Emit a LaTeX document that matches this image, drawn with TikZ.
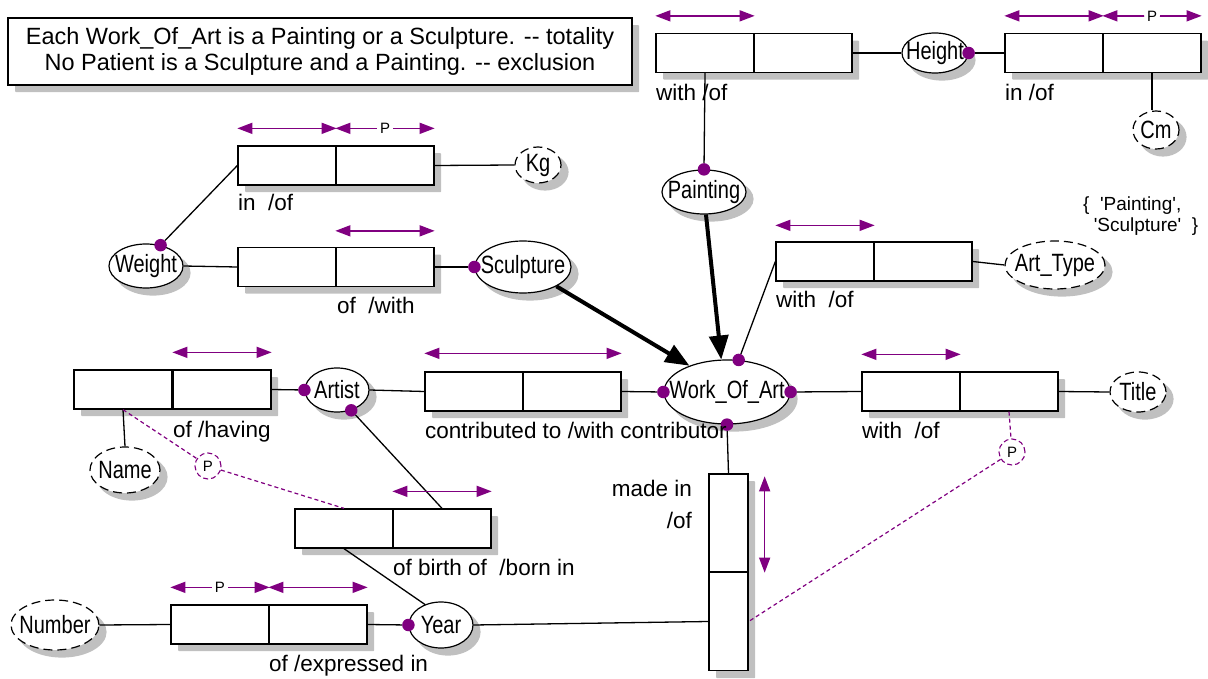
\documentclass[tikz,border=0pt]{standalone}
\usepackage{fontspec}
\setmainfont{Liberation Sans}
\newfontfamily\entfam[FakeStretch=0.8]{Liberation Sans}
\usetikzlibrary{shapes.geometric,arrows.meta,calc}
\pgfdeclarelayer{background}
\pgfsetlayers{background,main}
\definecolor{purp}{RGB}{128,0,128}
\definecolor{shadowgray}{RGB}{192,192,192}
\newcommand{\labfont}{\fontsize{22.5}{26}\selectfont}
\newcommand{\entfont}{\entfam\fontsize{25}{27}\selectfont}
\newcommand{\q}{\textquotesingle}
\tikzset{
  cell/.style={draw, fill=white, line width=1.3pt, minimum width=98pt, minimum height=39pt, inner sep=0pt},
  vcell/.style={cell, minimum width=39pt, minimum height=98pt},
  entity/.style={ellipse, draw, fill=white, line width=1.2pt, inner sep=0pt, font=\entfont},
  valent/.style={entity, dash pattern=on 9pt off 5pt},
  dot/.style={circle, fill=purp, inner sep=0pt, minimum size=12.5pt},
  lab/.style={anchor=base west, font=\labfont, inner sep=0pt},
  rng/.style={purp, line width=1.5pt, {Triangle[length=15pt,width=11pt]}-{Triangle[length=15pt,width=11pt]}},
  conn/.style={line width=1.3pt},
  dconn/.style={purp, line width=1.2pt, dash pattern=on 4pt off 3pt},
  pcirc/.style={circle, draw=purp, line width=1.1pt, dash pattern=on 5pt off 3pt, fill=white, minimum size=26pt, inner sep=0pt, font=\fontsize{15}{16}\selectfont},
  subtype/.style={line width=4pt, -{Triangle[length=24pt,width=19pt]}},
  pmark/.style={circle, fill=white, inner sep=0.5pt, font=\fontsize{15}{16}\selectfont, text=black},
  shadowfill/.style={fill=shadowgray, draw=none},
  shadownode/.style={rectangle, fill=shadowgray, draw=none, rounded corners=0.8pt, inner sep=0pt, anchor=north west}
}
\newcommand{\et}[1]{\makebox[0pt]{#1}}
\newcommand{\eshadow}[1]{\fill[shadowfill] let \p1=(#1.east), \p2=(#1.north), \p3=(#1.center) in ([xshift=7pt,yshift=-7pt]#1.center) ellipse [x radius={\x1-\x3}, y radius={\y2-\y3}];}
\begin{document}
\begin{tikzpicture}[x=1pt,y=-1pt]
\useasboundingbox (0,0) rectangle (1208,679);

% note box
\node[draw, fill=white, line width=1.3pt, minimum width=624pt, minimum height=67pt, align=center, font=\fontsize{23.5}{26}\selectfont, inner sep=0pt] (note) at (320,51.5)
  {Each Work\_Of\_Art is a Painting or a Sculpture. -{}- totality\\No Patient is a Sculpture and a Painting. -{}- exclusion};

% enumeration text
\node[anchor=north west, align=left, inner sep=0pt, font=\fontsize{19}{21}\selectfont] (enum) at (1083,197)
  {\{~~\q Painting\q,\\ ~~\q Sculpture\q~~\}};

% ---- boxes ----
\node[cell] (hw1a) at (705,53) {};
\node[cell] (hw1b) at (803,53) {};
\node[cell] (hi2a) at (1054,53) {};
\node[cell] (hi2b) at (1152,53) {};
\node[cell] (wka) at (287,165.5) {};
\node[cell] (wkb) at (385,165.5) {};
\node[cell] (wwa) at (287,267) {};
\node[cell] (wwb) at (385,267) {};
\node[cell] (ata) at (825,261.5) {};
\node[cell] (atb) at (923,261.5) {};
\node[cell] (tia) at (911,391.5) {};
\node[cell] (tib) at (1009,391.5) {};
\node[cell] (cta) at (474,391.5) {};
\node[cell] (ctb) at (572,391.5) {};
\node[cell] (nma) at (123,389.5) {};
\node[cell] (nmb) at (222,389.5) {};
\node[cell] (bba) at (344,528.5) {};
\node[cell] (bbb) at (442,528.5) {};
\node[cell] (exa) at (220,624.5) {};
\node[cell] (exb) at (318,624.5) {};
\node[vcell] (mia) at (728.5,523) {};
\node[vcell] (mib) at (728.5,621.5) {};

% ---- entities ----
\node[entity, minimum width=66pt, minimum height=40pt] (height) at (935,53) {\et{Height}};
\node[valent, minimum width=46pt, minimum height=38pt] (cm) at (1156,130) {\et{Cm}};
\node[entity, minimum width=84pt, minimum height=44pt] (painting) at (704,192) {\et{Painting}};
\node[valent, minimum width=46pt, minimum height=36pt] (kg) at (538,165) {\et{Kg}};
\node[entity, minimum width=74pt, minimum height=44pt] (weight) at (146,266) {\et{Weight}};
\node[entity, minimum width=96pt, minimum height=52pt] (sculpture) at (523,267) {\et{Sculpture}};
\node[valent, minimum width=100pt, minimum height=48pt] (arttype) at (1055,265) {\et{Art\_Type}};
\node[entity, minimum width=126pt, minimum height=64pt] (woa) at (727,392) {\et{Work\_Of\_Art}};
\node[valent, minimum width=56pt, minimum height=40pt] (title) at (1138,392) {\et{Title}};
\node[entity, minimum width=64pt, minimum height=44pt] (artist) at (337,390) {\et{Artist}};
\node[valent, minimum width=70pt, minimum height=46pt] (name) at (125,470) {\et{Name}};
\node[entity, minimum width=64pt, minimum height=46pt] (year) at (441,625) {\et{Year}};
\node[valent, minimum width=88pt, minimum height=50pt] (number) at (55,625) {\et{Number}};

% ---- shadows (background layer) ----
\begin{pgfonlayer}{background}
\node[shadownode, minimum width=624pt, minimum height=67pt] (snote) at (15,25) {};
\node[shadownode, minimum width=196pt, minimum height=39pt] (shw) at (663,40.5) {};
\node[shadownode, minimum width=196pt, minimum height=39pt] (shi) at (1012,40.5) {};
\node[shadownode, minimum width=196pt, minimum height=39pt] (swk) at (245,153) {};
\node[shadownode, minimum width=196pt, minimum height=39pt] (sww) at (245,254.5) {};
\node[shadownode, minimum width=196pt, minimum height=39pt] (sat) at (783,249) {};
\node[shadownode, minimum width=196pt, minimum height=39pt] (sti) at (869,379) {};
\node[shadownode, minimum width=196pt, minimum height=39pt] (sct) at (432,379) {};
\node[shadownode, minimum width=197pt, minimum height=39pt] (snm) at (81,377) {};
\node[shadownode, minimum width=196pt, minimum height=39pt] (sbb) at (302,516) {};
\node[shadownode, minimum width=196pt, minimum height=39pt] (sex) at (178,612) {};
\node[shadownode, minimum width=39pt, minimum height=197pt] (smi) at (716,481) {};
\eshadow{height}
\eshadow{cm}
\eshadow{painting}
\eshadow{kg}
\eshadow{weight}
\eshadow{sculpture}
\eshadow{arttype}
\eshadow{woa}
\eshadow{title}
\eshadow{artist}
\eshadow{name}
\eshadow{year}
\eshadow{number}
\end{pgfonlayer}

% ---- P circles ----
\node[pcirc] (p1) at (208,466) {P};
\node[pcirc] (p2) at (1012,452) {P};

% ---- role dots ----
\node[dot] (dheight) at (height.east) {};
\node[dot] (dpaint) at (painting.north) {};
\node[dot] (dweight) at (weight.55) {};
\node[dot] (dsculp) at (sculpture.west) {};
\node[dot] (dwtop) at (woa.70) {};
\node[dot] (dwleft) at (woa.west) {};
\node[dot] (dwright) at (woa.east) {};
\node[dot] (dwbot) at (woa.south) {};
\node[dot] (dartl) at (artist.west) {};
\node[dot] (dartb) at (artist.-55) {};
\node[dot] (dyear) at (year.west) {};

% ---- connectors ----
\draw[conn] (hw1b.east) -- (height.west);
\draw[conn] (dheight) -- (hi2a.west);
\draw[conn] (hi2b.south) -- (hi2b.south |- cm.north);
\draw[conn] (hw1a.south) -- (dpaint);
\draw[conn] (wkb.east) -- (kg.west);
\draw[conn] (dweight) -- (wka.west);
\draw[conn] (weight.east) -- (wwa.west);
\draw[conn] (wwb.east) -- (dsculp);
\draw[conn] (dwtop) -- (ata.west);
\draw[conn] (atb.east) -- (arttype.west);
\draw[conn] (dwright) -- (tia.west);
\draw[conn] (tib.east) -- (title.west);
\draw[conn] (artist.east) -- (cta.west);
\draw[conn] (ctb.east) -- (dwleft);
\draw[conn] (nmb.east) -- (dartl);
\draw[conn] (nma.south) -- (name.north);
\draw[conn] (dartb) -- (bbb.north);
\draw[conn] (bba.south) -- (year.128);
\draw[conn] (number.east) -- (exa.west);
\draw[conn] (exb.east) -- (dyear);
\draw[conn] (year.east) -- (mib.west);
\draw[conn] (dwbot) -- (mia.north);

\draw[subtype] (painting.-85) -- (woa.100);
\draw[subtype] (sculpture.-30) -- (woa.145);

\draw[dconn] (nma.south) -- (p1);
\draw[dconn] (p1) -- (bba.north);
\draw[dconn] (tib.south) -- (p2);
\draw[dconn] (p2) -- (mib.east);

% ---- uniqueness arrows ----
\draw[rng] ([yshift=17pt]hw1a.north west) -- ([yshift=17pt]hw1a.north east);
\draw[rng] ([yshift=17pt]hi2a.north west) -- ([yshift=17pt]hi2a.north east);
\draw[rng] ([yshift=17pt]hi2b.north west) -- node[pmark] {P} ([yshift=17pt]hi2b.north east);
\draw[rng] ([yshift=17pt]wka.north west) -- ([yshift=17pt]wka.north east);
\draw[rng] ([yshift=17pt]wkb.north west) -- node[pmark] {P} ([yshift=17pt]wkb.north east);
\draw[rng] ([yshift=16pt]wwb.north west) -- ([yshift=16pt]wwb.north east);
\draw[rng] ([yshift=16pt]ata.north west) -- ([yshift=16pt]ata.north east);
\draw[rng] ([yshift=17pt]tia.north west) -- ([yshift=17pt]tia.north east);
\draw[rng] ([yshift=18pt]cta.north west) -- ([yshift=18pt]ctb.north east);
\draw[rng] ([yshift=17pt]nmb.north west) -- ([yshift=17pt]nmb.north east);
\draw[rng] ([yshift=17pt]bbb.north west) -- ([yshift=17pt]bbb.north east);
\draw[rng] ([yshift=17pt]exa.north west) -- node[pmark] {P} ([yshift=17pt]exa.north east);
\draw[rng] ([yshift=17pt]exb.north west) -- ([yshift=17pt]exb.north east);
\draw[rng] ([xshift=16pt,yshift=-3pt]mia.north east) -- ([xshift=16pt]mia.south east);

% ---- labels ----
\node[lab] (l1) at (656,101) {with /of};
\node[lab] (l2) at (1005,101) {in /of};
\node[lab] (l3) at (238,211) {in~ /of};
\node[lab] (l4) at (337,313) {of~ /with};
\node[lab] (l5) at (776,308) {with~ /of};
\node[lab] (l6) at (862,438) {with~ /of};
\node[lab] (l7) at (425,438) {contributed to /with contributor};
\node[lab] (l8) at (173,437) {of /having};
\node[lab] (l9) at (393,575) {of birth of~ /born in};
\node[lab] (l10) at (269,671) {of /expressed in};
\node[lab, anchor=base east] (l11) at (692,496) {made in};
\node[lab, anchor=base east] (l12) at (692,528) {/of};
\end{tikzpicture}
\end{document}
